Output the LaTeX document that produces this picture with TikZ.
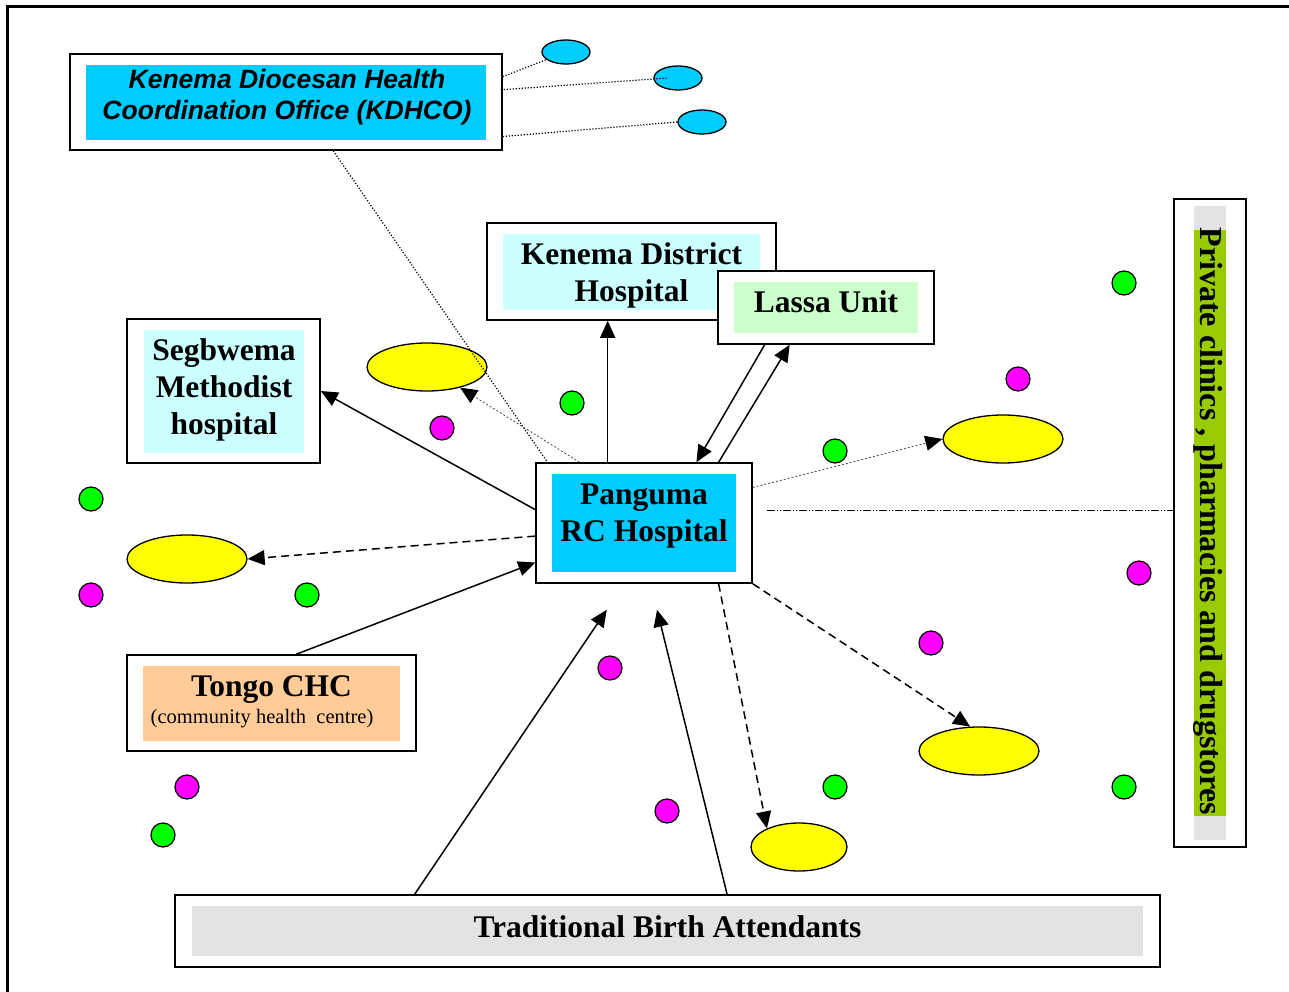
\documentclass[tikz,border=0pt]{standalone}
\usepackage{fontspec}
\setmainfont{Liberation Serif}
\newfontfamily\sansf{Liberation Sans}
\usetikzlibrary{shapes.geometric,arrows.meta,calc}
\definecolor{cyanA}{HTML}{00CCFF}
\definecolor{cyanL}{HTML}{CCFFFF}
\definecolor{greenL}{HTML}{CCFFCC}
\definecolor{peach}{HTML}{FFCC99}
\definecolor{greyL}{HTML}{E3E3E3}
\definecolor{limeC}{HTML}{99CC00}
\definecolor{yel}{HTML}{FFFF00}
\definecolor{grn}{HTML}{00FF00}
\definecolor{mag}{HTML}{FF00FF}
\begin{document}
\begin{tikzpicture}[x=1pt,y=-1pt,
  outerbox/.style={draw, line width=1.5pt, fill=white, inner sep=0pt},
  txt/.style={inner sep=0pt, align=center, font=\fontsize{31.5}{37}\selectfont\bfseries},
  yell/.style={ellipse, draw, line width=1.3pt, fill=yel, minimum width=120pt, minimum height=48pt, inner sep=0pt},
  smallell/.style={ellipse, draw, line width=1.3pt, fill=cyanA, minimum width=48pt, minimum height=24pt, inner sep=0pt},
  gdot/.style={circle, draw, line width=1.2pt, fill=grn, minimum size=24pt, inner sep=0pt},
  mdot/.style={circle, draw, line width=1.2pt, fill=mag, minimum size=24pt, inner sep=0pt},
  tip/.style={-{Triangle[length=17pt,width=15pt,color=black,fill=black]}},
  arr/.style={tip, line width=1.5pt},
  darr/.style={arr, dash pattern=on 8pt off 5pt},
  fine/.style={gray!60!black, line width=0.8pt, dash pattern=on 2pt off 2pt},
  finearr/.style={fine, tip},
  dots/.style={black, line width=1.2pt, dash pattern=on 1.2pt off 1.8pt}
]
\useasboundingbox (0,0) rectangle (1289,992);
\draw[line width=3pt] (7,992) -- (7,7) -- (1289,7);

% KDHCO
\node[outerbox, minimum width=432pt, minimum height=96pt] (kdhco) at (286,102) {};
\node[fill=cyanA, minimum width=400pt, minimum height=75pt, inner sep=0pt] (kdhcoIn) at (286,102.5) {};
\node[inner sep=0pt, align=center, font=\sansf\fontsize{26.5}{31}\selectfont\bfseries\itshape] (kdhcoTxt) at (287,97)
  {Kenema Diocesan Health\\Coordination Office (KDHCO)};
\node[smallell] (c1) at (566,52) {};
\node[smallell] (c2) at (678,78) {};
\node[smallell] (c3) at (702,122) {};

% Kenema District Hospital
\node[outerbox, minimum width=289pt, minimum height=97pt] (kdh) at (631.5,271.5) {};
\node[fill=cyanL, minimum width=257pt, minimum height=76pt, inner sep=0pt] (kdhIn) at (631.5,272) {};
\node[txt] (kdhTxt) at (631.5,275) {Kenema District\\Hospital};
% Lassa Unit
\node[outerbox, minimum width=216pt, minimum height=73pt] (lassa) at (826,307.5) {};
\node[fill=greenL, minimum width=184pt, minimum height=51pt, inner sep=0pt] (lassaIn) at (826,307.5) {};
\node[txt] (lassaTxt) at (826,301.5) {Lassa Unit};
% Segbwema
\node[outerbox, minimum width=193pt, minimum height=144pt] (seg) at (223.5,391) {};
\node[fill=cyanL, minimum width=160pt, minimum height=123pt, inner sep=0pt] (segIn) at (224,391.5) {};
\node[txt] (segTxt) at (224,389.5) {Segbwema\\Methodist\\hospital};
% Panguma
\node[outerbox, minimum width=216pt, minimum height=120pt] (pang) at (644,523) {};
\node[fill=cyanA, minimum width=184pt, minimum height=98pt, inner sep=0pt] (pangIn) at (644,523) {};
\node[txt] (pangTxt) at (644,516) {Panguma\\RC Hospital};
% Tongo CHC
\node[outerbox, minimum width=289pt, minimum height=96pt] (tongo) at (271.5,703) {};
\node[fill=peach, minimum width=257pt, minimum height=75pt, inner sep=0pt] (tongoIn) at (271.5,703.5) {};
\node[txt] (tongoTxt) at (271.5,690) {Tongo CHC};
\node[inner sep=0pt, font=\fontsize{20.5}{24}\selectfont] (tongoSub) at (262,719) {(community health\ \ centre)};
% Traditional Birth Attendants
\node[outerbox, minimum width=985pt, minimum height=72pt] (tba) at (667.5,931) {};
\node[fill=greyL, minimum width=951pt, minimum height=50pt, inner sep=0pt] (tbaIn) at (667.5,931) {};
\node[txt] (tbaTxt) at (667.5,927) {Traditional Birth Attendants};
% Private clinics
\node[outerbox, minimum width=72pt, minimum height=648pt] (priv) at (1210,523) {};
\node[fill=greyL, minimum width=32pt, minimum height=634pt, inner sep=0pt] (privGrey) at (1210,523) {};
\node[fill=limeC, minimum width=32pt, minimum height=586pt, inner sep=0pt] (privGreen) at (1210,523) {};
\node[inner sep=0pt, font=\fontsize{32}{37}\selectfont\bfseries, rotate=-90] (privTxt) at (1208.5,521.5) {Private clinics , pharmacies and drugstores};

% yellow ellipses
\node[yell] (E1) at (427,367) {};
\node[yell] (E2) at (187,559) {};
\node[yell] (E3) at (1003,439) {};
\node[yell] (E4) at (979,751) {};
\node[yell, minimum width=96pt] (E5) at (799,847) {};

% dots
\node[gdot] (g1) at (1124,283) {};
\node[gdot] (g2) at (572,403) {};
\node[gdot] (g3) at (835,451) {};
\node[gdot] (g4) at (91,499) {};
\node[gdot] (g5) at (307,595) {};
\node[gdot] (g6) at (835,787) {};
\node[gdot] (g7) at (1124,787) {};
\node[gdot] (g8) at (163,835) {};
\node[mdot] (m1) at (1018,379) {};
\node[mdot] (m2) at (442,428) {};
\node[mdot] (m3) at (91,595) {};
\node[mdot] (m4) at (1139,573) {};
\node[mdot] (m5) at (931,643) {};
\node[mdot] (m6) at (610,668) {};
\node[mdot] (m7) at (187,787) {};
\node[mdot] (m8) at (667,811) {};

% anchor points
\coordinate (pTop1) at ($(pang.north west)!0.333!(pang.north east)$);
\coordinate (pTop2) at ($(pang.north west)!0.741!(pang.north east)$);
\coordinate (pTop3) at ($(pang.north west)!0.843!(pang.north east)$);
\coordinate (pTop4) at ($(pang.north west)!0.204!(pang.north east)$);
\coordinate (pTop5) at ($(pang.north west)!0.056!(pang.north east)$);
\coordinate (lBot1) at ($(lassa.south west)!0.218!(lassa.south east)$);
\coordinate (lBot2) at ($(lassa.south west)!0.333!(lassa.south east)$);
\coordinate (pW1) at ($(pang.north west)!0.39!(pang.south west)$);
\coordinate (pW2) at ($(pang.north west)!0.608!(pang.south west)$);
\coordinate (pW3) at ($(pang.north west)!0.825!(pang.south west)$);
\coordinate (pE1) at ($(pang.north east)!0.208!(pang.south east)$);
\coordinate (pE2) at ($(pang.north east)!0.40!(pang.south east)+(14,0)$);
\coordinate (pB1) at ($(pang.south west)!0.843!(pang.south east)$);
\coordinate (pBelow1) at ($(pang.south west)!0.329!(pang.south east)+(0,26)$);
\coordinate (pBelow2) at ($(pang.south west)!0.56!(pang.south east)+(0,26)$);
\coordinate (tN) at ($(tongo.north west)!0.585!(tongo.north east)$);
\coordinate (tba1) at ($(tba.north west)!0.2437!(tba.north east)$);
\coordinate (tba2) at ($(tba.north west)!0.5604!(tba.north east)$);
\coordinate (kR1) at ($(kdhco.north east)!0.24!(kdhco.south east)$);
\coordinate (kR2) at ($(kdhco.north east)!0.375!(kdhco.south east)+(-2,0)$);
\coordinate (kR3) at ($(kdhco.north east)!0.854!(kdhco.south east)$);
\coordinate (kB) at ($(kdhco.south west)!0.609!(kdhco.south east)$);

% connectors
\draw[dots] (kR1) -- (c1);
\draw[dots] (kR2) -- ([xshift=-10pt]c2.center);
\draw[dots] (kR3) -- (c3.west);
\draw[dots] (kB) -- (pTop5);

\draw[arr] (pTop1) -- (pTop1 |- kdh.south);
\draw[arr] (lBot1) -- (pTop2);
\draw[arr] (pTop3) -- (lBot2);
\draw[arr] (pW1) -- (seg.east);
\draw[darr] (pW2) -- (E2.east);
\draw[arr] (tN) -- (pW3);
\draw[finearr] (pTop4) -- (E1);
\draw[finearr] (pE1) -- (E3.west);
\draw[line width=0.9pt, dash pattern=on 8pt off 2pt on 1pt off 2pt on 1pt off 2pt] (pE2) -- (pE2 -| priv.west);
\draw[darr] (pB1) -- (E5.150);
\draw[darr] (pang.south east) -- (E4.110);
\draw[arr] (tba1) -- (pBelow1);
\draw[arr] (tba2) -- (pBelow2);
\end{tikzpicture}
\end{document}
